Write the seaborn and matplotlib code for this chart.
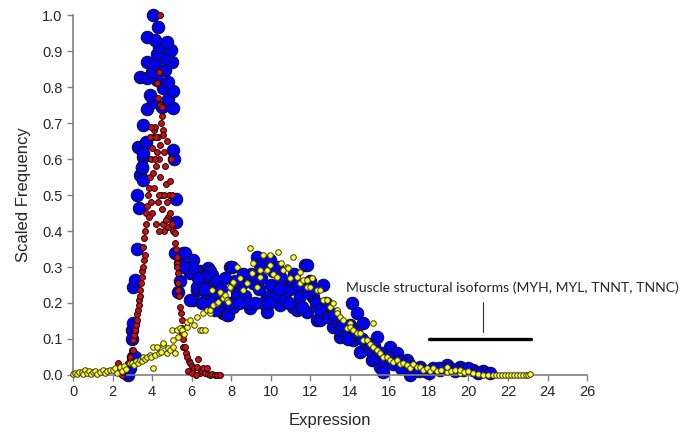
import pandas as pd
import numpy as np
import matplotlib
matplotlib.use('Agg')
import matplotlib.pyplot as plt
import seaborn as sns

# blue series (large markers)
blue_pts = [(2.55,0.01),(2.8,0.0),(2.7,0.005),(2.9,0.02),(3.05,0.05),(3.14,0.05),(2.97,0.125),(3.02,0.144),(3.0,0.1),
            (3.05,0.245),(3.14,0.264),(3.22,0.349),(3.25,0.5),(3.35,0.463),(3.39,0.556),(3.47,0.574),(3.56,0.542),
            (3.56,0.606),(3.30,0.634),(3.69,0.648),(3.52,0.694),(3.73,0.74),(4.06,0.759),(4.49,0.745),(5.04,0.743),
            (3.89,0.778),(4.82,0.768),(4.57,0.796),(5.04,0.79),(3.39,0.829),(3.73,0.824),(4.23,0.819),(4.82,0.815),
            (3.98,0.843),(4.65,0.847),(3.73,0.87),(4.15,0.866),(4.99,0.87),(4.65,0.88),(4.23,0.893),(4.94,0.903),
            (4.37,0.912),(3.73,0.938),(4.15,0.93),(4.74,0.926),(4.32,0.968),(4.06,1.0),(5.07,0.625),(5.11,0.599),
            (5.21,0.49),(5.21,0.426),(3.56,0.616),(3.47,0.579),
            (5.16,0.338),(5.41,0.311),(5.58,0.338),(5.67,0.338),(6.09,0.32),(5.92,0.282),(6.42,0.29),(6.84,0.296),
            (6.93,0.29),(6.76,0.26),(7.01,0.278),(6.26,0.236),(6.09,0.208),(5.92,0.208),(6.26,0.245),(6.59,0.273),
            (7.1,0.245),(6.76,0.218),(7.1,0.231),(7.44,0.2),(7.44,0.208),(7.6,0.171),(7.77,0.167),(7.86,0.167),
            (8.11,0.19),(8.28,0.23),(8.28,0.218),(7.94,0.301),(8.03,0.301),(8.95,0.185),(9.12,0.255),(9.29,0.329),
            (9.46,0.306),(9.63,0.31),(9.8,0.218),(9.8,0.176),(9.96,0.319),(10.3,0.301),(10.47,0.194),(10.81,0.255),
            (11.31,0.181),(11.73,0.306),(11.82,0.306),(11.82,0.176),(11.15,0.19),(12.16,0.218),(12.32,0.153),
            (12.49,0.153),(12.66,0.25),(13.17,0.134),(13.5,0.106),(13.5,0.125),(14.1,0.199),(14.35,0.171),
            (14.68,0.144),(14.18,0.097),(15.36,0.106),(14.52,0.065),(15.11,0.042),(15.53,0.023),(15.7,0.009),
            (16.03,0.079),(16.37,0.06),(16.88,0.042),(17.05,0.0),(17.55,0.023),(18.56,0.014),(18.9,0.028),
            (19.07,0.019),(19.57,0.023),(19.74,0.014),(20.25,0.014),(20.75,0.01),(21.1,0.005),
            (8.5,0.25),(8.7,0.22),(9.0,0.28),(9.4,0.24),(9.6,0.2),(10.0,0.25),(10.2,0.22),(10.5,0.27),(10.7,0.21),
            (11.0,0.24),(11.2,0.28),(11.5,0.22),(12.0,0.26),(12.3,0.2),(12.8,0.2),(13.0,0.17),(13.3,0.15),
            (13.8,0.12),(14.0,0.14),(14.8,0.09),(15.0,0.07),(15.4,0.05),(15.8,0.04),(16.2,0.03),(16.6,0.02),
            (17.3,0.015),(17.8,0.01),(18.2,0.02),(8.8,0.2),(6.5,0.2),(7.3,0.26),(6.0,0.3),(5.6,0.3),(5.4,0.26),
            (5.3,0.23),(7.7,0.27),
            (6.3,0.27),(6.6,0.24),(7.0,0.2),(7.2,0.18),(7.5,0.24),(7.9,0.2),(8.2,0.26),(8.4,0.2),(8.6,0.28),
            (9.2,0.2),(9.5,0.27),(9.9,0.2),(10.1,0.29),(10.4,0.24),(10.9,0.2),(11.1,0.26),(11.4,0.25),(11.6,0.19),
            (11.9,0.23),(12.2,0.24),(12.5,0.18),(12.9,0.16),(13.2,0.17),(13.6,0.14),(13.9,0.1),(14.3,0.12),
            (14.6,0.1),(15.2,0.08),(15.6,0.06),(16.0,0.05),(16.5,0.04),(17.0,0.03),(17.5,0.01),(18.0,0.005),
            (18.5,0.02),(19.3,0.01),(20.0,0.02),(20.5,0.005)]

# red series (small markers)
red_pts = [(2.29,0.032),(2.46,0.0),(2.55,0.009),(2.7,0.02),(2.8,0.032),(2.9,0.05),(3.0,0.07),(3.05,0.069),(3.05,0.097),
           (3.1,0.11),(3.14,0.125),(3.18,0.14),(3.22,0.153),(3.26,0.17),(3.3,0.181),(3.33,0.195),(3.35,0.208),
           (3.37,0.22),(3.39,0.236),(3.43,0.255),(3.47,0.273),(3.5,0.29),(3.56,0.301),(3.6,0.32),(3.64,0.333),
           (3.56,0.356),(3.6,0.38),(3.65,0.4),(3.7,0.42),(3.7,0.45),
           (3.75,0.47),(3.8,0.5),(3.85,0.52),(3.9,0.55),(3.95,0.6),(4.0,0.63),(4.05,0.66),(4.1,0.68),(4.15,0.69),
           (4.0,0.45),(4.1,0.52),(4.2,0.58),(4.25,0.62),(4.3,0.66),(4.35,0.6),(4.4,0.55),(4.45,0.5),(4.5,0.46),
           (4.55,0.42),(4.2,0.42),(4.3,0.48),(4.4,0.64),(4.45,0.7),(4.5,0.72),(4.55,0.68),(4.6,0.62),(4.65,0.58),
           (4.7,0.53),(4.75,0.48),(4.8,0.44),(4.85,0.5),(4.9,0.54),(4.95,0.6),(4.6,0.4),(4.7,0.43),(4.8,0.41),
           (4.9,0.45),(5.0,0.42),(5.0,0.5),(3.85,0.44),(3.95,0.48),(4.05,0.56),(4.15,0.6),(4.35,0.5),(4.6,0.5),
           (4.75,0.65),(3.9,0.66),(3.95,0.69),(4.2,0.66),(4.35,0.4),
           (4.3,0.77),(4.4,0.75),(4.37,0.843),(4.23,0.81),(4.4,1.0),(4.5,0.745),(4.57,0.667),
           (5.05,0.4),(5.16,0.394),(5.16,0.366),(5.2,0.35),(5.24,0.329),(5.24,0.31),(5.28,0.3),(5.33,0.282),
           (5.33,0.255),(5.33,0.236),(5.37,0.22),(5.41,0.19),(5.45,0.171),(5.5,0.153),(5.5,0.13),(5.5,0.116),
           (5.58,0.1),(5.58,0.079),(5.67,0.079),(5.7,0.06),(5.75,0.051),(5.85,0.04),(5.92,0.032),(6.0,0.025),
           (6.1,0.02),(6.26,0.023),(6.34,0.044),(6.42,0.005),(6.5,0.01),(6.59,0.019),(6.7,0.005),(6.76,0.019),
           (6.85,0.003),(6.93,0.0),(7.05,0.002),(7.2,0.0),(7.3,0.0),(7.44,0.0),(5.8,0.01),(6.0,0.005),(6.2,0.0)]

# yellow series (small markers)
yellow_pts = [(0.0,0.003),(0.1,0.005),(0.2,0.002),(0.3,0.008),(0.44,0.009),(0.5,0.002),(0.61,0.014),(0.7,0.005),
              (0.8,0.01),(0.9,0.003),(1.0,0.008),(1.1,0.012),(1.2,0.004),(1.37,0.009),(1.5,0.015),(1.6,0.006),
              (1.7,0.012),(1.87,0.014),(2.04,0.014),(2.1,0.02),(2.21,0.005),(2.38,0.019),(2.38,0.023),(2.5,0.012),
              (2.6,0.025),(2.7,0.018),(2.88,0.032),(2.97,0.032),(3.1,0.028),(3.2,0.038),(3.3,0.033),(3.39,0.042),
              (3.5,0.04),(3.56,0.051),(3.65,0.045),(3.73,0.051),(3.89,0.056),(3.95,0.05),(4.06,0.079),(4.06,0.019),
              (4.15,0.055),(4.23,0.079),(4.35,0.06),(4.45,0.065),(4.57,0.083),(4.57,0.088),(4.74,0.06),(4.8,0.075),
              (4.91,0.069),(4.99,0.125),(5.07,0.079),(5.07,0.097),(5.16,0.06),(5.24,0.125),(5.33,0.106),(5.41,0.13),
              (5.5,0.125),(5.6,0.115),(5.75,0.134),(5.75,0.148),(5.92,0.153),(6.1,0.14),(6.26,0.162),(6.42,0.125),
              (6.51,0.125),(6.59,0.171),(6.68,0.125),(6.76,0.181),(6.93,0.171),(6.93,0.181),(7.01,0.236),(7.1,0.194),
              (7.27,0.199),(7.35,0.204),(7.44,0.227),(7.44,0.231),(7.6,0.215),(7.69,0.222),(7.77,0.208),(7.86,0.204),
              (7.94,0.241),(7.94,0.245),(8.11,0.255),(8.11,0.259),(8.28,0.301),(8.45,0.269),(8.61,0.236),(8.78,0.255),
              (8.95,0.352),(9.04,0.282),(9.12,0.31),(9.29,0.245),(9.46,0.273),(9.46,0.292),(9.63,0.333),(9.8,0.292),
              (9.96,0.333),(9.96,0.306),(10.1,0.28),(10.3,0.273),(10.38,0.343),(10.5,0.31),(10.64,0.292),(10.81,0.301),
              (10.89,0.296),(11.0,0.27),(11.15,0.329),(11.31,0.273),(11.48,0.255),(11.48,0.287),(11.65,0.264),
              (11.82,0.245),(11.82,0.264),(11.99,0.245),(12.1,0.27),(12.32,0.236),(12.49,0.236),(12.66,0.208),
              (12.83,0.208),(13.0,0.19),(13.17,0.199),(13.34,0.181),(13.34,0.171),(13.5,0.16),(13.67,0.153),
              (13.85,0.13),(14.01,0.144),(14.01,0.134),(14.18,0.125),(14.35,0.116),(14.52,0.116),(14.68,0.097),
              (14.85,0.097),(15.0,0.085),(15.19,0.144),(15.19,0.079),(15.36,0.07),(15.53,0.06),(15.7,0.05),
              (15.87,0.051),(16.03,0.042),(16.2,0.035),(16.37,0.042),(16.55,0.03),(16.71,0.032),(16.88,0.028),
              (17.05,0.02),(17.2,0.03),(17.38,0.023),(17.55,0.023),(17.7,0.015),(17.9,0.02),(18.05,0.012),
              (18.22,0.019),(18.4,0.01),(18.6,0.015),(18.9,0.009),(18.9,0.023),(19.1,0.01),(19.3,0.015),
              (19.57,0.005),(19.57,0.014),(19.8,0.008),(20.0,0.01),(20.25,0.005),(20.5,0.003),(20.75,0.0),
              (21.0,0.0),(21.26,0.0),(21.4,0.0),(21.55,0.0),(21.7,0.0),(21.85,0.0),(22.0,0.0),(22.15,0.0),
              (22.3,0.0),(22.45,0.0),(22.6,0.0),(22.75,0.0),(22.9,0.0),(23.0,0.0),(23.12,0.003)]

x_ticks = list(range(0, 27, 2))
y_ticks = [0.0, 0.1, 0.2, 0.3, 0.4, 0.5, 0.6, 0.7, 0.8, 0.9, 1.0]
note = 'Muscle structural isoforms (MYH, MYL, TNNT, TNNC)'

blue = pd.DataFrame(blue_pts, columns=['Expression', 'Freq'])
red = pd.DataFrame(red_pts, columns=['Expression', 'Freq'])
yellow = pd.DataFrame(yellow_pts, columns=['Expression', 'Freq'])

sns.set_style('ticks')
plt.rcParams['font.family'] = ['Liberation Sans', 'DejaVu Sans']

fig = plt.figure(figsize=(6.85, 4.42), dpi=100)
ax = fig.add_axes([0.1066, 0.1516, 0.7504, 0.8144])

sns.scatterplot(data=blue, x='Expression', y='Freq', ax=ax, s=80, color='#0000F0',
                edgecolor='#10103a', linewidth=0.8, zorder=2)
sns.scatterplot(data=red, x='Expression', y='Freq', ax=ax, s=18, color='#C0141A',
                edgecolor='#2a0000', linewidth=0.7, zorder=3)
sns.scatterplot(data=yellow, x='Expression', y='Freq', ax=ax, s=16, color='#FFFF30',
                edgecolor='#3a3a10', linewidth=0.7, zorder=4)

# annotation bar
ax.plot([18, 23.15], [0.1, 0.1], color='black', lw=2.4, zorder=5)
ax.plot([20.72, 20.72], [0.12, 0.204], color='#333333', lw=0.8, zorder=5)
ax.text(13.81, 0.242, note, fontsize=10.1, family=['Lato', 'DejaVu Sans'], va='center', ha='left')

ax.set_xlim(0, 26)
ax.set_ylim(0, 1.0)
ax.set_xticks(x_ticks)
ax.set_yticks(y_ticks)
ax.set_xticklabels([str(t) for t in x_ticks])
ax.set_yticklabels(['%.1f' % t for t in y_ticks])
ax.tick_params(labelsize=10.5, color='#808080', length=4, width=1)
for side in ['left', 'bottom']:
    ax.spines[side].set_color('#808080')
    ax.spines[side].set_linewidth(1.2)
sns.despine(ax=ax)
ax.set_xlabel('Expression', fontsize=12, labelpad=10)
ax.set_ylabel('Scaled Frequency', fontsize=12, labelpad=8)
for c in ax.collections:
    c.set_clip_on(False)

plt.savefig('out.png', dpi=100)
